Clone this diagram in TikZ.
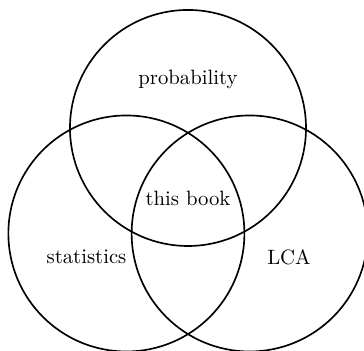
\documentclass[tikz,border=0pt]{standalone}
\usepackage{tikz}
\usetikzlibrary{positioning}

\begin{document}
\begin{tikzpicture}[
    every node/.style = {align=center},
    set/.style   = {circle, draw=black, thick, minimum size=4cm, inner sep=0pt},
    label/.style = {font=\normalsize},
]
\useasboundingbox (0,0) rectangle (6.169,5.932);

% --- Tiga lingkaran ---
\node[set] (prob)  at (3.186, 3.763) {};
\node[set] (stats) at (2.142, 1.975) {};
\node[set] (lca)   at (4.231, 1.975) {};

% --- Label ---
\node[label] (probtext)  at (3.186, 4.585) {probability};
\node[label] (booktext)  at (3.186, 2.576) {this book};
\node[label] (statstext) at (1.466, 1.576) {statistics};
\node[label] (lcatext)   at (4.898, 1.568) {LCA};

\end{tikzpicture}
\end{document}
